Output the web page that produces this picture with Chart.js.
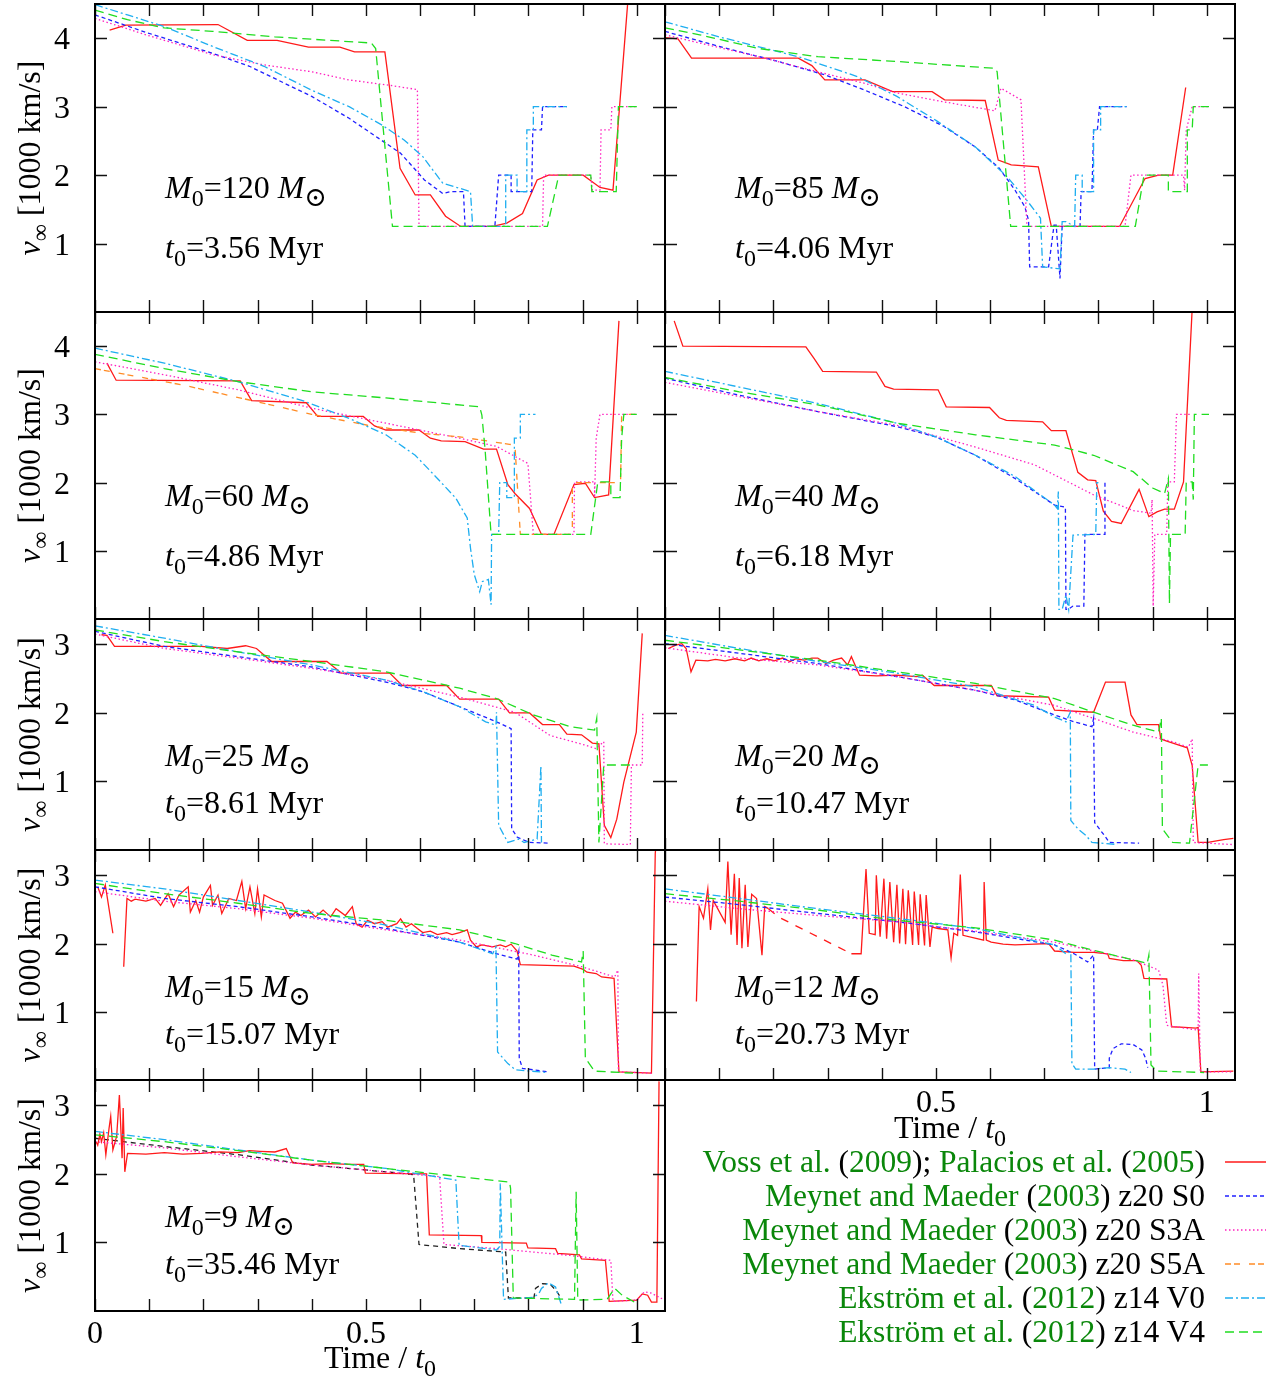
<!DOCTYPE html>
<html>
<head>
<meta charset="utf-8">
<title>Terminal wind velocity against time</title>
<script src="https://cdn.jsdelivr.net/npm/chart.js@4.4.1/dist/chart.umd.min.js"></script>
<style>
  html, body { margin: 0; padding: 0; background: #fff; }
  #page { position: relative; width: 1279px; height: 1378px; overflow: hidden; background: #fff; }
  #page canvas { position: absolute; }
  #labels { position: absolute; left: 0; top: 0; z-index: 5; pointer-events: none;
            font-family: "Liberation Serif", "DejaVu Serif", serif; }
  #labels text { white-space: pre; }
</style>
</head>
<body>
<div id="page">
  <svg id="labels" xmlns="http://www.w3.org/2000/svg" width="1279" height="1378"></svg>
</div>
<script>
// ---- panel captions and axes ----
const masses = [120, 85, 60, 40, 25, 20, 15, 12, 9];
const lifetimes = ["3.56", "4.06", "4.86", "6.18", "8.61", "10.47", "15.07", "20.73", "35.46"];
const xTicks = [0, 0.1, 0.2, 0.3, 0.4, 0.5, 0.6, 0.7, 0.8, 0.9, 1.0];
const yTicksTall = [1, 2, 3, 4];
const yTicksShort = [1, 2, 3];
const yMaxByRow = [4.5, 4.5, 3.37, 3.37, 3.37];

// ---- series, [time / t0, v_inf in 1000 km/s] ----
// M0 = 120
const vossM120 = [[0.027,4.12],[0.057,4.19],[0.227,4.20],[0.281,3.97],[0.336,3.97],[0.394,3.87],[0.452,3.87],[0.479,3.80],[0.535,3.80],[0.563,2.10],[0.591,1.71],[0.619,1.71],[0.647,1.40],[0.675,1.25],[0.734,1.25],[0.760,1.30],[0.789,1.44],[0.816,1.93],[0.837,2.00],[0.901,2.00],[0.932,1.82],[0.956,1.78],[0.985,4.70]];
const s0M120 = [[0,4.34],[0.1,4.07],[0.217,3.78],[0.285,3.59],[0.4,3.15],[0.469,2.83],[0.523,2.54],[0.564,2.32],[0.608,1.93],[0.642,1.73],[0.656,1.76],[0.68,1.76],[0.683,1.25],[0.738,1.25],[0.745,2.0],[0.768,2.0],[0.768,1.76],[0.806,1.76],[0.808,2.66],[0.824,2.66],[0.826,3.0],[0.871,3.0]];
const s3aM120 = [[0,4.29],[0.094,4.05],[0.217,3.76],[0.312,3.61],[0.4,3.51],[0.469,3.39],[0.537,3.32],[0.595,3.25],[0.598,1.25],[0.826,1.25],[0.828,2.0],[0.915,2.0],[0.918,1.78],[0.932,1.78],[0.934,2.66],[0.952,2.66],[0.954,3.0],[1.0,3.0]];
const v0M120 = [[0,4.49],[0.06,4.34],[0.128,4.17],[0.217,3.88],[0.312,3.59],[0.4,3.24],[0.469,3.0],[0.53,2.73],[0.571,2.51],[0.605,2.27],[0.642,1.88],[0.693,1.76],[0.697,1.25],[0.758,1.25],[0.758,2.0],[0.779,2.0],[0.779,1.76],[0.797,1.76],[0.797,2.66],[0.809,2.66],[0.809,3.0],[0.871,3.0]];
const v4M120 = [[0,4.41],[0.06,4.27],[0.128,4.15],[0.217,4.10],[0.332,4.02],[0.51,3.93],[0.518,3.85],[0.549,1.25],[0.835,1.25],[0.856,2.0],[0.915,2.0],[0.917,1.76],[0.962,1.76],[0.966,3.0],[1.0,3.0]];

// M0 = 85
const vossM85 = [[0,4.01],[0.024,3.99],[0.049,3.71],[0.246,3.71],[0.271,3.60],[0.295,3.39],[0.369,3.39],[0.42,3.22],[0.493,3.22],[0.516,3.10],[0.591,3.09],[0.615,2.22],[0.639,2.15],[0.689,2.12],[0.713,1.25],[0.839,1.25],[0.886,1.95],[0.911,2.0],[0.937,2.0],[0.961,3.28]];
const s0M85 = [[0,4.10],[0.1,3.88],[0.209,3.66],[0.297,3.46],[0.369,3.24],[0.442,3.0],[0.515,2.71],[0.573,2.41],[0.617,2.10],[0.646,1.78],[0.664,1.54],[0.671,1.34],[0.673,0.66],[0.708,0.66],[0.718,1.27],[0.722,1.27],[0.729,0.49],[0.733,1.25],[0.766,1.25],[0.768,1.76],[0.788,1.76],[0.791,2.66],[0.798,2.66],[0.802,3.0],[0.852,3.0]];
const s3aM85 = [[0,4.05],[0.064,3.93],[0.173,3.73],[0.282,3.51],[0.369,3.34],[0.428,3.20],[0.515,3.07],[0.609,2.94],[0.62,3.27],[0.657,3.10],[0.668,1.25],[0.849,1.25],[0.86,2.0],[0.957,2.0],[0.959,1.78],[0.962,2.66],[0.973,3.0],[1.004,3.0]];
const v0M85 = [[0,4.24],[0.1,4.02],[0.246,3.73],[0.355,3.44],[0.428,3.15],[0.5,2.80],[0.573,2.41],[0.631,1.98],[0.668,1.63],[0.693,1.37],[0.697,0.66],[0.729,0.63],[0.733,1.32],[0.74,1.32],[0.756,1.25],[0.758,2.0],[0.77,2.0],[0.77,1.76],[0.791,1.76],[0.791,2.66],[0.804,2.66],[0.804,3.0],[0.853,3.0]];
const v4M85 = [[0,4.15],[0.064,4.05],[0.173,3.85],[0.282,3.73],[0.428,3.66],[0.609,3.56],[0.613,3.51],[0.638,1.25],[0.868,1.25],[0.884,2.0],[0.929,2.0],[0.929,1.76],[0.964,1.76],[0.964,2.66],[0.973,2.66],[0.975,3.0],[1.004,3.0]];

// M0 = 60
const vossM60 = [[0.022,3.75],[0.039,3.50],[0.268,3.49],[0.289,3.20],[0.39,3.17],[0.411,2.97],[0.495,2.97],[0.516,2.83],[0.537,2.77],[0.598,2.77],[0.619,2.65],[0.639,2.61],[0.683,2.60],[0.717,2.49],[0.741,2.49],[0.762,1.97],[0.775,1.84],[0.802,1.62],[0.824,1.24],[0.847,1.24],[0.884,1.97],[0.905,1.99],[0.922,1.78],[0.948,1.82],[0.967,4.37]];
const s3aM60 = [[0,3.77],[0.128,3.58],[0.264,3.36],[0.4,3.09],[0.537,2.87],[0.673,2.65],[0.741,2.53],[0.799,2.28],[0.809,1.24],[0.884,1.24],[0.885,2.01],[0.922,2.01],[0.922,1.78],[0.925,2.65],[0.932,3.0],[1.0,3.0]];
const s5aM60 = [[0,3.67],[0.06,3.58],[0.162,3.43],[0.285,3.21],[0.4,3.0],[0.503,2.84],[0.605,2.72],[0.673,2.67],[0.765,2.56],[0.775,2.55],[0.785,1.24],[0.881,1.24],[0.881,2.0],[0.918,2.0],[0.97,2.0],[0.972,3.0],[1.0,3.0]];
const v0M60 = [[0,3.97],[0.128,3.75],[0.264,3.48],[0.387,3.19],[0.469,2.94],[0.537,2.70],[0.591,2.40],[0.632,2.06],[0.666,1.77],[0.687,1.48],[0.693,1.04],[0.70,0.65],[0.71,0.40],[0.715,0.55],[0.726,0.58],[0.731,0.21],[0.732,1.24],[0.745,1.24],[0.747,2.0],[0.76,2.0],[0.76,1.78],[0.774,1.78],[0.774,2.65],[0.785,2.65],[0.785,3.0],[0.813,3.0]];
const v4M60 = [[0,3.88],[0.128,3.67],[0.264,3.48],[0.4,3.33],[0.537,3.24],[0.71,3.11],[0.714,2.99],[0.72,2.48],[0.731,1.24],[0.915,1.24],[0.928,2.01],[0.952,2.01],[0.952,1.78],[0.969,1.78],[0.972,2.65],[0.976,3.0],[1.0,3.0]];

// M0 = 40
const vossM40 = [[0.017,4.37],[0.033,4.0],[0.26,3.99],[0.275,3.82],[0.291,3.63],[0.39,3.62],[0.406,3.41],[0.422,3.37],[0.504,3.36],[0.519,3.11],[0.599,3.10],[0.617,2.95],[0.63,2.91],[0.697,2.89],[0.713,2.76],[0.74,2.76],[0.762,2.15],[0.78,2.04],[0.795,2.03],[0.809,1.58],[0.824,1.43],[0.842,1.40],[0.875,1.90],[0.893,1.50],[0.908,1.57],[0.922,1.61],[0.94,1.61],[0.957,2.01],[0.973,4.55]];
const s0M40 = [[0,3.53],[0.137,3.28],[0.282,3.04],[0.428,2.82],[0.5,2.67],[0.573,2.40],[0.646,2.06],[0.719,1.67],[0.739,1.64],[0.74,0.14],[0.744,0.14],[0.753,0.19],[0.773,0.19],[0.775,1.24],[0.812,1.24],[0.812,2.0]];
const s3aM40 = [[0,3.47],[0.137,3.26],[0.282,3.04],[0.428,2.84],[0.573,2.52],[0.682,2.26],[0.791,1.82],[0.864,1.59],[0.897,1.55],[0.899,1.75],[0.901,0.19],[0.904,1.24],[0.926,1.24],[0.928,2.01],[0.94,2.01],[0.944,3.0],[0.973,3.0]];
const v0M40 = [[0,3.63],[0.137,3.40],[0.282,3.16],[0.428,2.87],[0.5,2.67],[0.573,2.40],[0.646,2.09],[0.719,1.67],[0.724,1.62],[0.726,1.87],[0.727,0.14],[0.733,0.14],[0.74,0.35],[0.745,0.14],[0.753,1.23],[0.795,1.24],[0.797,2.0],[0.8,2.0]];
const v4M40 = [[0,3.54],[0.137,3.33],[0.282,3.14],[0.428,2.87],[0.573,2.70],[0.719,2.55],[0.791,2.40],[0.864,2.16],[0.9,1.92],[0.922,1.84],[0.929,2.06],[0.931,0.23],[0.933,1.24],[0.96,1.24],[0.962,2.01],[0.973,2.01],[0.975,1.75],[0.977,3.0],[1.004,3.0]];

// M0 = 25
const vossM25 = [[0.012,3.14],[0.022,3.13],[0.036,2.97],[0.196,2.97],[0.244,2.94],[0.278,2.98],[0.298,2.94],[0.326,2.75],[0.428,2.75],[0.455,2.58],[0.544,2.58],[0.567,2.40],[0.649,2.40],[0.673,2.20],[0.745,2.20],[0.765,2.0],[0.802,2.0],[0.826,1.83],[0.857,1.83],[0.871,1.69],[0.898,1.68],[0.918,1.56],[0.93,1.55],[0.94,0.36],[0.952,0.18],[0.963,0.45],[0.976,0.99],[0.999,1.72],[1.01,3.16]];
const s0M25 = [[0,3.19],[0.128,2.97],[0.264,2.82],[0.4,2.67],[0.537,2.45],[0.605,2.31],[0.673,2.09],[0.741,1.87],[0.768,1.77],[0.769,0.31],[0.779,0.19],[0.787,0.16],[0.802,0.11],[0.84,0.10]];
const s3aM25 = [[0,3.15],[0.128,2.94],[0.264,2.80],[0.4,2.65],[0.537,2.48],[0.673,2.23],[0.775,2.01],[0.84,1.67],[0.905,1.53],[0.924,1.48],[0.939,1.58],[0.94,0.09],[0.988,0.08],[0.99,1.24],[1.01,1.24],[1.011,1.99]];
const v0M25 = [[0,3.27],[0.128,3.09],[0.264,2.89],[0.4,2.70],[0.537,2.48],[0.605,2.31],[0.673,2.09],[0.721,1.87],[0.74,1.82],[0.741,2.01],[0.745,0.36],[0.762,0.11],[0.782,0.16],[0.792,0.11],[0.816,0.16],[0.823,1.23],[0.824,0.11]];
const v4M25 = [[0,3.21],[0.128,3.04],[0.264,2.89],[0.4,2.75],[0.537,2.60],[0.673,2.36],[0.741,2.21],[0.809,1.97],[0.877,1.80],[0.922,1.75],[0.926,1.92],[0.93,0.11],[0.939,1.24],[0.99,1.24]];

// M0 = 20
const vossM20 = [[0.006,2.94],[0.020,2.99],[0.031,3.01],[0.039,2.94],[0.048,2.60],[0.057,2.77],[0.079,2.76],[0.093,2.78],[0.111,2.76],[0.129,2.79],[0.147,2.76],[0.159,2.80],[0.173,2.76],[0.188,2.79],[0.202,2.76],[0.217,2.80],[0.231,2.75],[0.242,2.79],[0.257,2.77],[0.271,2.80],[0.282,2.80],[0.297,2.72],[0.311,2.77],[0.326,2.80],[0.337,2.70],[0.344,2.82],[0.359,2.55],[0.391,2.54],[0.428,2.55],[0.464,2.53],[0.475,2.55],[0.497,2.40],[0.602,2.40],[0.613,2.25],[0.708,2.23],[0.719,2.04],[0.791,2.01],[0.813,2.45],[0.849,2.45],[0.86,1.97],[0.871,1.83],[0.911,1.83],[0.915,1.62],[0.926,1.59],[0.964,1.49],[0.973,1.23],[0.984,0.11],[1.002,0.11],[1.031,0.15],[1.049,0.17]];
const s0M20 = [[0,3.01],[0.137,2.87],[0.282,2.72],[0.428,2.53],[0.573,2.33],[0.646,2.19],[0.719,1.97],[0.755,1.87],[0.788,1.80],[0.791,1.92],[0.793,0.40],[0.813,0.19],[0.82,0.11],[0.875,0.10]];
const s3aM20 = [[0,2.95],[0.137,2.80],[0.282,2.70],[0.428,2.53],[0.573,2.33],[0.719,2.11],[0.791,1.92],[0.864,1.72],[0.937,1.58],[0.966,1.50],[0.973,1.62],[0.975,0.11],[1.046,0.08]];
const v0M20 = [[0,3.13],[0.137,2.94],[0.282,2.75],[0.428,2.58],[0.573,2.38],[0.682,2.11],[0.719,1.94],[0.74,1.87],[0.748,2.01],[0.749,0.43],[0.762,0.31],[0.777,0.21],[0.788,0.11],[0.835,0.08]];
const v4M20 = [[0,3.06],[0.137,2.92],[0.282,2.77],[0.428,2.60],[0.573,2.43],[0.719,2.21],[0.791,2.01],[0.864,1.82],[0.911,1.72],[0.916,1.92],[0.918,0.31],[0.937,0.11],[0.968,0.10],[0.984,1.24],[1.002,1.24]];

// M0 = 15
const vossM15 = [[0.005,2.83],[0.012,2.68],[0.019,2.86],[0.033,2.15],[0.043,null],[0.053,1.66],[0.059,2.66],[0.067,2.62],[0.074,2.65],[0.094,2.62],[0.111,2.66],[0.121,2.56],[0.135,2.73],[0.145,2.54],[0.155,2.71],[0.172,2.83],[0.176,2.46],[0.186,2.63],[0.193,2.46],[0.2,2.68],[0.213,2.85],[0.217,2.56],[0.227,2.71],[0.234,2.44],[0.247,2.66],[0.261,2.63],[0.271,2.91],[0.278,2.51],[0.286,2.83],[0.295,2.44],[0.3,2.80],[0.307,2.39],[0.312,2.71],[0.332,2.63],[0.346,2.59],[0.36,2.37],[0.37,2.46],[0.38,2.41],[0.394,2.49],[0.407,2.39],[0.421,2.49],[0.435,2.39],[0.445,2.51],[0.462,2.41],[0.475,2.54],[0.482,2.29],[0.493,2.24],[0.503,2.34],[0.516,2.29],[0.53,2.32],[0.54,2.24],[0.557,2.29],[0.564,2.36],[0.574,2.24],[0.584,2.29],[0.595,2.22],[0.605,2.16],[0.619,2.18],[0.632,2.13],[0.649,2.16],[0.659,2.13],[0.673,2.16],[0.687,2.20],[0.693,2.05],[0.704,1.95],[0.714,1.98],[0.734,1.95],[0.748,1.98],[0.758,1.95],[0.768,1.99],[0.779,1.89],[0.785,1.69],[0.884,1.67],[0.901,1.62],[0.908,1.58],[0.925,1.56],[0.935,1.51],[0.958,1.49],[0.967,0.12],[1.027,0.10],[1.034,3.32],[1.036,3.49]];
const s0M15 = [[0,2.83],[0.128,2.66],[0.264,2.54],[0.4,2.39],[0.537,2.22],[0.673,2.02],[0.741,1.85],[0.779,1.77],[0.782,1.88],[0.783,0.32],[0.789,0.17],[0.837,0.12]];
const s3aM15 = [[0,2.76],[0.128,2.62],[0.264,2.51],[0.4,2.37],[0.537,2.20],[0.673,2.05],[0.809,1.83],[0.898,1.66],[0.959,1.51],[0.965,1.61],[0.966,0.12],[1.027,0.10]];
const v0M15 = [[0,2.93],[0.128,2.80],[0.264,2.63],[0.4,2.46],[0.537,2.27],[0.673,2.02],[0.734,1.85],[0.74,1.95],[0.743,0.41],[0.762,0.24],[0.776,0.15],[0.833,0.11]];
const v4M15 = [[0,2.88],[0.128,2.73],[0.264,2.59],[0.4,2.44],[0.537,2.34],[0.673,2.20],[0.775,2.0],[0.843,1.83],[0.898,1.73],[0.901,1.89],[0.905,0.32],[0.922,0.13],[0.993,0.10]];

// M0 = 12
const vossM12 = [[0.058,1.15],[0.063,2.54],[0.071,2.37],[0.079,2.80],[0.084,2.20],[0.089,2.63],[0.111,2.31],[0.116,3.20],[0.122,2.13],[0.128,3.02],[0.133,1.98],[0.137,2.96],[0.142,1.93],[0.148,2.86],[0.153,1.95],[0.16,2.72],[0.169,2.66],[0.179,1.83],[0.184,2.54],[0.191,2.51],[0.209,2.39],[0.344,1.85],[0.362,1.85],[0.371,3.09],[0.377,2.15],[0.388,2.13],[0.39,3.0],[0.397,2.10],[0.404,2.95],[0.409,2.07],[0.415,2.90],[0.422,2.02],[0.428,2.86],[0.433,2.0],[0.439,2.80],[0.444,1.99],[0.449,2.78],[0.457,1.98],[0.46,2.76],[0.468,1.98],[0.471,2.72],[0.479,1.97],[0.482,2.71],[0.489,1.95],[0.493,2.24],[0.504,2.22],[0.522,2.20],[0.528,1.79],[0.533,2.15],[0.54,2.12],[0.545,3.01],[0.55,2.12],[0.588,2.05],[0.589,2.90],[0.593,2.05],[0.602,2.02],[0.624,1.99],[0.646,1.98],[0.682,1.99],[0.708,2.0],[0.719,1.89],[0.755,1.87],[0.791,1.87],[0.817,1.85],[0.82,1.78],[0.846,1.75],[0.871,1.75],[0.879,1.68],[0.884,1.49],[0.926,1.48],[0.935,0.78],[0.959,0.77],[0.98,0.76],[0.984,0.77],[0.989,0.12],[1.049,0.13]];
const vossM12Sparse = [0.19, 0.345];
const s0M12 = [[0,2.68],[0.137,2.57],[0.282,2.44],[0.428,2.32],[0.573,2.17],[0.719,1.98],[0.755,1.85],[0.78,1.73],[0.791,1.83],[0.793,0.16],[0.82,0.18],[0.82,0.32],[0.827,0.46],[0.842,0.53],[0.864,0.52],[0.88,0.44],[0.887,0.32],[0.891,0.18]];
const s3aM12 = [[0,2.62],[0.137,2.51],[0.282,2.41],[0.428,2.32],[0.573,2.18],[0.719,2.02],[0.791,1.89],[0.864,1.76],[0.911,1.61],[0.919,1.39],[0.926,0.80],[0.984,0.73],[0.985,1.56],[0.988,0.12],[1.049,0.12]];
const v0M12 = [[0,2.80],[0.137,2.66],[0.282,2.51],[0.428,2.37],[0.573,2.22],[0.719,1.98],[0.74,1.85],[0.749,1.88],[0.751,0.24],[0.758,0.16],[0.791,0.16],[0.82,0.18],[0.849,0.16],[0.86,0.11]];
const v4M12 = [[0,2.73],[0.137,2.62],[0.282,2.49],[0.428,2.34],[0.573,2.23],[0.719,2.05],[0.791,1.90],[0.864,1.76],[0.89,1.71],[0.893,1.83],[0.897,0.22],[0.908,0.13],[0.995,0.11]];

// M0 = 9
const vossM9 = [[0.002,2.47],[0.005,2.42],[0.009,2.58],[0.012,2.47],[0.016,2.60],[0.02,2.28],[0.026,2.67],[0.029,2.84],[0.033,2.35],[0.04,2.55],[0.045,3.15],[0.05,2.23],[0.052,2.96],[0.055,2.03],[0.06,2.30],[0.094,2.29],[0.128,2.31],[0.162,2.29],[0.196,2.30],[0.23,2.32],[0.264,2.31],[0.285,2.34],[0.305,2.33],[0.332,2.32],[0.353,2.37],[0.365,2.16],[0.4,2.14],[0.435,2.15],[0.469,2.14],[0.496,2.14],[0.499,2.01],[0.612,2.0],[0.617,1.11],[0.713,1.10],[0.714,1.0],[0.796,0.99],[0.799,0.92],[0.85,0.91],[0.854,0.84],[0.894,0.82],[0.898,0.76],[0.942,0.74],[0.949,0.14],[1.0,0.16],[1.01,0.25],[1.02,0.23],[1.027,0.13],[1.037,0.13],[1.041,3.35]];
const extraM9 = [[0,2.52],[0.128,2.40],[0.264,2.28],[0.4,2.13],[0.537,2.03],[0.588,1.99],[0.598,0.97],[0.673,0.91],[0.758,0.86],[0.763,0.19],[0.81,0.19],[0.813,0.33],[0.826,0.40],[0.84,0.39],[0.851,0.30],[0.86,0.19]];
const s3aM9 = [[0,2.47],[0.128,2.38],[0.264,2.25],[0.4,2.13],[0.537,2.03],[0.636,1.96],[0.644,0.97],[0.741,0.91],[0.877,0.81],[0.952,0.74],[0.956,0.14],[1.0,0.16],[1.014,0.28],[1.027,0.26],[1.051,0.16]];
const v0M9 = [[0,2.62],[0.128,2.50],[0.264,2.35],[0.4,2.20],[0.537,2.08],[0.666,1.91],[0.672,0.96],[0.741,0.89],[0.747,0.94],[0.748,1.86],[0.754,0.17],[0.809,0.20],[0.819,0.25],[0.824,0.33],[0.837,0.41],[0.85,0.35],[0.86,0.11]];
const v4M9 = [[0,2.57],[0.128,2.47],[0.264,2.34],[0.4,2.20],[0.537,2.08],[0.673,1.96],[0.765,1.88],[0.767,1.79],[0.772,0.19],[0.885,0.17],[0.888,1.74],[0.891,0.16],[0.945,0.17],[0.959,0.33],[0.973,0.23],[1.0,0.11]];

// legend rows: [text, "c" = citation colour / "k" = black]
const legendVoss = [["Voss et al.", "c"], [" (", "k"], ["2009", "c"], ["); ", "k"], ["Palacios et al.", "c"], [" (", "k"], ["2005", "c"], [")", "k"]];
const legendS0 = [["Meynet and Maeder", "c"], [" (", "k"], ["2003", "c"], [") z20 S0", "k"]];
const legendS3a = [["Meynet and Maeder", "c"], [" (", "k"], ["2003", "c"], [") z20 S3A", "k"]];
const legendS5a = [["Meynet and Maeder", "c"], [" (", "k"], ["2003", "c"], [") z20 S5A", "k"]];
const legendV0 = [["Ekstr\u00f6m et al.", "c"], [" (", "k"], ["2012", "c"], [") z14 V0", "k"]];
const legendV4 = [["Ekstr\u00f6m et al.", "c"], [" (", "k"], ["2012", "c"], [") z14 V4", "k"]];

// ---- layout ----
const COL_LEFT = [95, 665];
const PANEL_W = 570;
const ROW_TOP = [4, 312, 619, 850, 1080];
const ROW_H = [308, 307, 231, 230, 231];
const PAD = 48;
const TICK = 12;
const FONT = '"Liberation Serif", "DejaVu Serif", serif';

const lineStyles = {
  voss:  { color: "#ff1a1a", dash: [] },
  s0:    { color: "#2020ff", dash: [4, 3] },
  s3a:   { color: "#ff20c0", dash: [1.5, 2.5] },
  s5a:   { color: "#ff8c26", dash: [6, 3, 6, 9] },
  v0:    { color: "#1eaef0", dash: [8, 3, 2, 3] },
  v4:    { color: "#20dd20", dash: [9, 5] },
  extra: { color: "#222222", dash: [5, 4] }
};
// first in this list is drawn first, last ends up on top
const drawOrder = ["extra", "voss", "s0", "s3a", "s5a", "v0", "v4"];

const panelSeries = [
  { voss: vossM120, s0: s0M120, s3a: s3aM120, v0: v0M120, v4: v4M120 },
  { voss: vossM85, s0: s0M85, s3a: s3aM85, v0: v0M85, v4: v4M85 },
  { voss: vossM60, s3a: s3aM60, s5a: s5aM60, v0: v0M60, v4: v4M60 },
  { voss: vossM40, s0: s0M40, s3a: s3aM40, v0: v0M40, v4: v4M40 },
  { voss: vossM25, s0: s0M25, s3a: s3aM25, v0: v0M25, v4: v4M25 },
  { voss: vossM20, s0: s0M20, s3a: s3aM20, v0: v0M20, v4: v4M20 },
  { voss: vossM15, s0: s0M15, s3a: s3aM15, v0: v0M15, v4: v4M15 },
  { voss: vossM12, s0: s0M12, s3a: s3aM12, v0: v0M12, v4: v4M12 },
  { voss: vossM9, extra: extraM9, s3a: s3aM9, v0: v0M9, v4: v4M9 }
];

// frame, inward ticks on all four sides and tick labels
const panelFrame = {
  id: "panelFrame",
  afterDatasetsDraw(chart, args, opts) {
    const { ctx, chartArea: a, scales: { x, y } } = chart;
    ctx.save();
    ctx.strokeStyle = "#111";
    ctx.lineWidth = 1.4;
    ctx.beginPath();
    for (const v of xTicks) {
      const px = Math.round(x.getPixelForValue(v)) + 0.5;
      ctx.moveTo(px, a.bottom); ctx.lineTo(px, a.bottom - TICK);
      ctx.moveTo(px, a.top); ctx.lineTo(px, a.top + TICK);
    }
    for (const v of opts.yTicks) {
      const py = Math.round(y.getPixelForValue(v)) + 0.5;
      ctx.moveTo(a.left, py); ctx.lineTo(a.left + TICK, py);
      ctx.moveTo(a.right, py); ctx.lineTo(a.right - TICK, py);
    }
    ctx.stroke();
    ctx.strokeStyle = "#000";
    ctx.lineWidth = 2;
    ctx.strokeRect(a.left, a.top, a.right - a.left, a.bottom - a.top);

    ctx.fillStyle = "#000";
    ctx.font = "32px " + FONT;
    ctx.textBaseline = "alphabetic";
    if (opts.yLabels) {
      ctx.textAlign = "right";
      for (const v of opts.yTicks) ctx.fillText(String(v), a.left - 25, y.getPixelForValue(v) + 11);
    }
    ctx.textAlign = "center";
    for (const v of opts.xLabels) ctx.fillText(String(v), x.getPixelForValue(v), a.bottom + 32);
    ctx.restore();
  }
};

const page = document.getElementById("page");

panelSeries.forEach((series, i) => {
  const row = Math.floor(i / 2);
  const col = i % 2;
  const left = COL_LEFT[col];
  const top = ROW_TOP[row];
  const h = ROW_H[row];

  const canvas = document.createElement("canvas");
  canvas.width = PANEL_W + 2 * PAD;
  canvas.height = h + 2 * PAD;
  canvas.style.left = (left - PAD) + "px";
  canvas.style.top = (top - PAD) + "px";
  canvas.style.width = canvas.width + "px";
  canvas.style.height = canvas.height + "px";
  page.insertBefore(canvas, page.firstChild);

  const datasets = [];
  drawOrder.forEach((key, k) => {
    const pts = series[key];
    if (!pts) return;
    const st = lineStyles[key];
    const ds = {
      label: key,
      data: pts.map(([px, py]) => ({ x: px, y: py })),
      borderColor: st.color,
      borderDash: st.dash,
      borderWidth: 1.3,
      pointRadius: 0,
      tension: 0,
      spanGaps: false,
      order: drawOrder.length - k
    };
    if (i === 7 && key === "voss") {
      // gappy stretch of the track is drawn broken
      ds.segment = {
        borderDash: (c) => (c.p0.parsed.x >= vossM12Sparse[0] && c.p1.parsed.x <= vossM12Sparse[1]) ? [8, 8] : undefined
      };
    }
    datasets.push(ds);
  });

  let xLabels = [];
  if (i === 8) xLabels = [0, 0.5, 1];
  if (i === 7) xLabels = [0.5, 1];

  new Chart(canvas.getContext("2d"), {
    type: "line",
    data: { datasets },
    plugins: [panelFrame],
    options: {
      responsive: false,
      animation: false,
      events: [],
      devicePixelRatio: 1,
      layout: { padding: PAD },
      plugins: {
        legend: { display: false },
        tooltip: { enabled: false },
        panelFrame: {
          yTicks: row < 2 ? yTicksTall : yTicksShort,
          yLabels: col === 0,
          xLabels
        }
      },
      scales: {
        x: { type: "linear", min: 0, max: 1.052, display: false },
        y: { type: "linear", min: 0, max: yMaxByRow[row], display: false }
      }
    }
  });
});

// ---- text overlay ----
const svg = document.getElementById("labels");
const NS = "http://www.w3.org/2000/svg";
const SUB_DY = 8;

function addText(x, y, runs, size, attrs) {
  const t = document.createElementNS(NS, "text");
  t.setAttribute("x", x);
  t.setAttribute("y", y);
  t.setAttribute("font-size", size);
  for (const k in (attrs || {})) t.setAttribute(k, attrs[k]);
  let shifted = false;
  for (const r of runs) {
    const s = document.createElementNS(NS, "tspan");
    if (r.italic) s.setAttribute("font-style", "italic");
    if (r.fill) s.setAttribute("fill", r.fill);
    if (r.sub) {
      s.setAttribute("font-size", Math.round(size * (r.scale || 0.75)));
      if (!shifted) { s.setAttribute("dy", SUB_DY); shifted = true; }
    } else if (shifted) {
      s.setAttribute("dy", -SUB_DY);
      shifted = false;
    }
    s.textContent = r.t;
    t.appendChild(s);
  }
  svg.appendChild(t);
  return t;
}

// panel captions
masses.forEach((m, i) => {
  const row = Math.floor(i / 2);
  const col = i % 2;
  const x = COL_LEFT[col] + 70;
  const top = ROW_TOP[row];
  const b1 = top + (row < 2 ? 194 : 147);
  const b2 = top + (row < 2 ? 254 : 194);
  addText(x, b1, [
    { t: "M", italic: true }, { t: "0", sub: true }, { t: "=" + m + "\u00a0" },
    { t: "M", italic: true }, { t: "\u2299", sub: true, scale: 0.85 }
  ], 32);
  addText(x, b2, [
    { t: "t", italic: true }, { t: "0", sub: true }, { t: "=" + lifetimes[i] + " Myr" }
  ], 32);
});

// y axis titles, one per row
ROW_TOP.forEach((top, row) => {
  const cy = top + ROW_H[row] / 2;
  addText(0, 0, [
    { t: "v", italic: true }, { t: "\u221e", sub: true }, { t: " [1000 km/s]" }
  ], 32, { "text-anchor": "middle", transform: `translate(40 ${cy}) rotate(-90)` });
});

// x axis titles
const timeTitle = [{ t: "Time / " }, { t: "t", italic: true }, { t: "0", sub: true }];
addText(COL_LEFT[0] + PANEL_W / 2, 1368, timeTitle, 32, { "text-anchor": "middle" });
addText(COL_LEFT[1] + PANEL_W / 2, 1138, timeTitle, 32, { "text-anchor": "middle" });

// legend
const legendRows = [
  ["voss", legendVoss], ["s0", legendS0], ["s3a", legendS3a],
  ["s5a", legendS5a], ["v0", legendV0], ["v4", legendV4]
];
legendRows.forEach(([key, parts], r) => {
  const base = 1172 + 34 * r;
  addText(1205, base, parts.map(([t, c]) => ({ t, fill: c === "c" ? "#0a870a" : "#000" })), 31.5,
    { "text-anchor": "end" });
  const ln = document.createElementNS(NS, "line");
  ln.setAttribute("x1", 1225); ln.setAttribute("x2", 1266);
  ln.setAttribute("y1", base - 10); ln.setAttribute("y2", base - 10);
  ln.setAttribute("stroke", lineStyles[key].color);
  ln.setAttribute("stroke-width", 1.5);
  if (lineStyles[key].dash.length) ln.setAttribute("stroke-dasharray", lineStyles[key].dash.join(" "));
  svg.appendChild(ln);
});
</script>
</body>
</html>
